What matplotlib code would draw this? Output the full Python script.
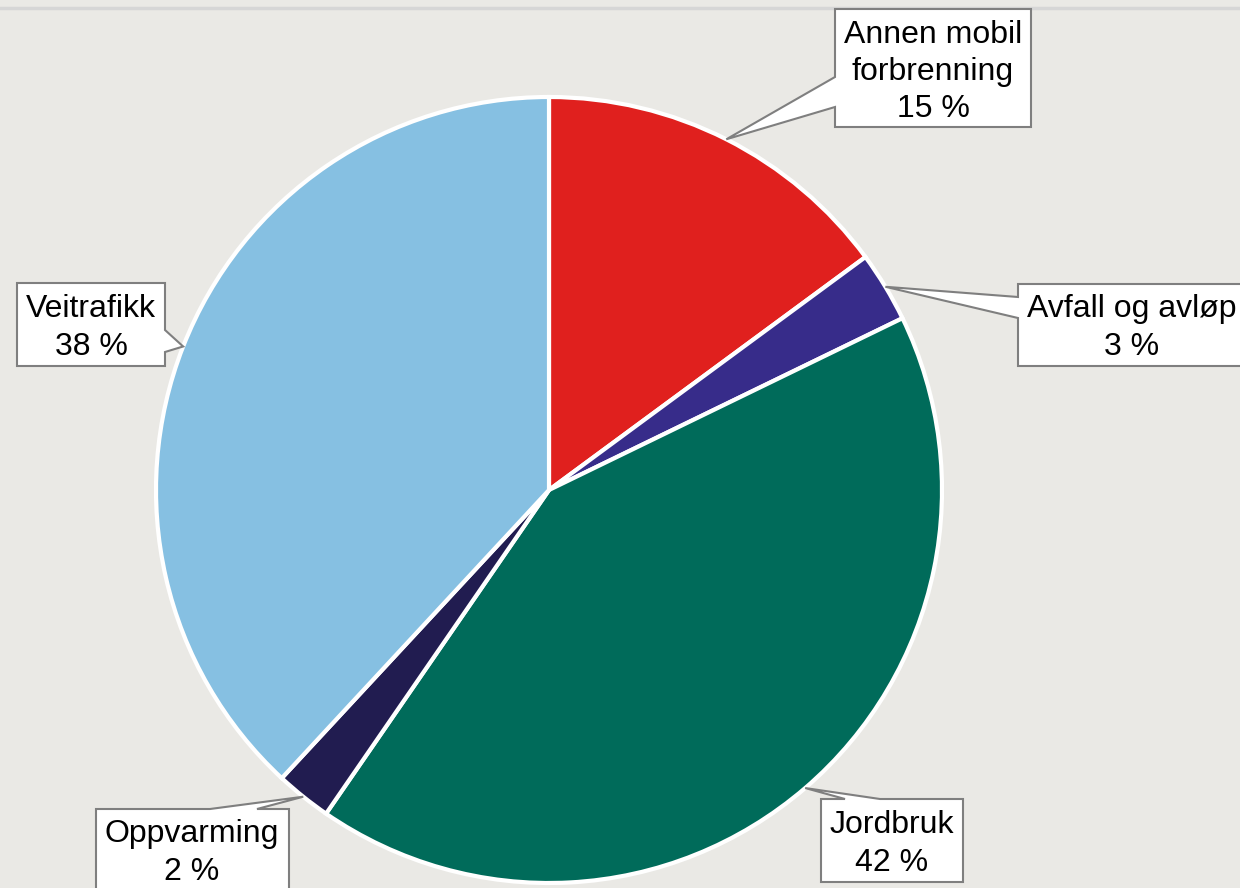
import matplotlib.pyplot as plt
from matplotlib.patches import Polygon
import numpy as np

# shares of emissions
labels = ["Annen mobil\nforbrenning", "Avfall og avløp", "Jordbruk", "Oppvarming", "Veitrafikk"]
values = [14.9, 2.9, 41.8, 2.3, 38.1]
colors = ["#E0201E", "#372C8A", "#006B5A", "#211C50", "#86C0E2"]

W, H = 1240, 888
BG = "#EAE9E5"

# callout boxes in pixel coords (x0, y0, x1, y1), pointer side, pointer base, text centre
boxes = [
    ((835, 9, 1031, 127), "left", (77, 107), (933, 72)),
    ((1018, 284, 1250, 366), "left", (297, 318), (1132, 328)),
    ((821, 799, 963, 882), "top", (845, 880), (892, 844)),
    ((96, 809, 289, 900), "top", (210, 257), (192, 853)),
    ((17, 283, 165, 366), "right", (330, 352), (91, 328)),
]

cx, cy, r = 549, 490, 393


def callout(ax, box, side, base, tip):
    x0, y0, x1, y1 = box
    a, b = base
    if side == "left":
        pts = [(x0, y0), (x1, y0), (x1, y1), (x0, y1), (x0, b), tip, (x0, a)]
    elif side == "right":
        pts = [(x0, y0), (x1, y0), (x1, a), tip, (x1, b), (x1, y1), (x0, y1)]
    else:
        pts = [(x0, y0), (a, y0), tip, (b, y0), (x1, y0), (x1, y1), (x0, y1)]
    pts = [(px, H - py) for px, py in pts]
    ax.add_patch(Polygon(pts, closed=True, facecolor="white", edgecolor="#7F7F7F",
                         lw=1.5, zorder=5))


def main():
    fig = plt.figure(figsize=(W / 100, H / 100), dpi=100)
    fig.patch.set_facecolor(BG)
    ax = fig.add_axes([0, 0, 1, 1])
    ax.set_facecolor(BG)
    ax.axis("off")

    ax.plot([0, W], [H - 8, H - 8], color="#D6D6D6", lw=2.5)

    wedges, _ = ax.pie(values, colors=colors, startangle=90, counterclock=False,
                       center=(cx, H - cy), radius=r,
                       wedgeprops=dict(edgecolor="white", linewidth=3))
    ax.set_xlim(0, W)
    ax.set_ylim(0, H)
    ax.set_aspect("equal")

    total = sum(values)
    for w, lab, v, (box, side, base, tc) in zip(wedges, labels, values, boxes):
        mid = np.deg2rad((w.theta1 + w.theta2) / 2)
        tip = (cx + r * np.cos(mid), cy - r * np.sin(mid))
        callout(ax, box, side, base, tip)
        pct = round(v / total * 100)
        ax.text(tc[0], H - tc[1], f"{lab}\n{pct} %", ha="center", va="center",
                fontsize=23, family="Liberation Sans", linespacing=1.32, zorder=6)

    fig.savefig("out.png", dpi=100, facecolor=BG)


if __name__ == "__main__":
    main()
